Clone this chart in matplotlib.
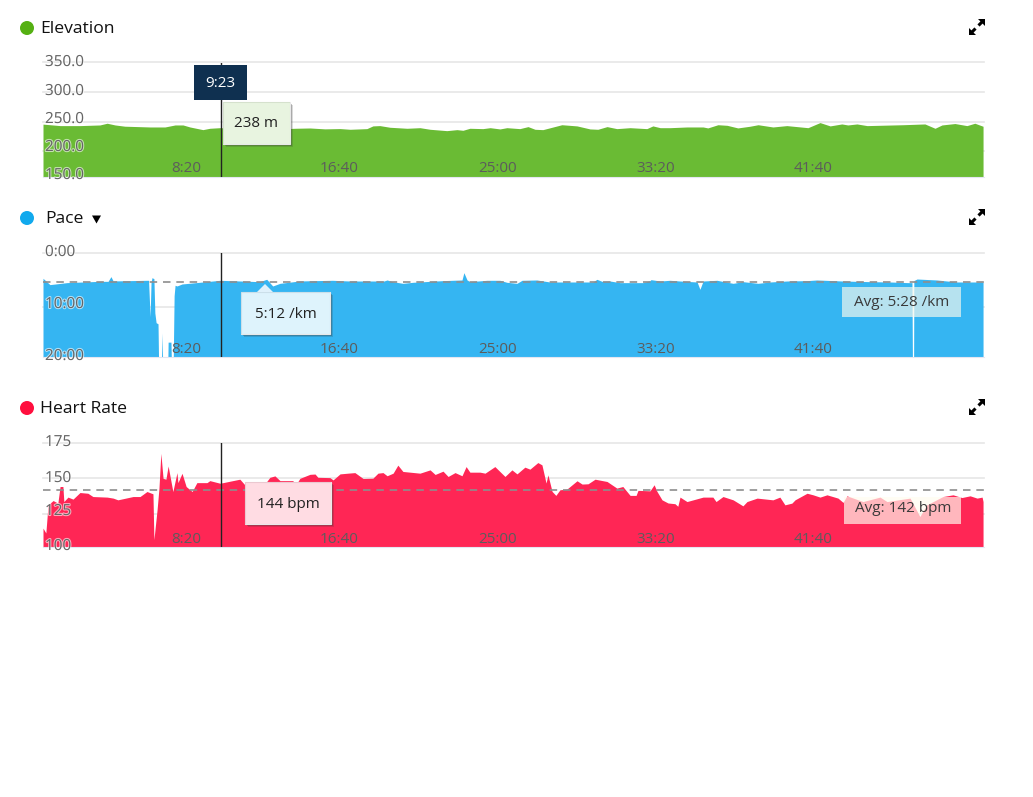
"""
    activity_charts

    Elevation, pace and heart rate area charts of one run.

"""

import matplotlib

matplotlib.use("Agg")
import matplotlib.patheffects as pe
import matplotlib.pyplot as plt
from matplotlib.patches import Circle, Polygon, Rectangle

plt.rcParams["font.family"] = ["Open Sans", "DejaVu Sans"]

# elevation, seconds and metres
elev_time = [0, 22, 54, 117, 180, 203, 228, 259, 339, 386, 418, 443, 465, 506, 528, 560, 608, 655,
             703, 750, 797, 845, 892, 940, 972, 1025, 1044, 1066, 1098, 1152, 1193, 1225, 1278, 1310,
             1329, 1351, 1392, 1415, 1446, 1468, 1509, 1535, 1557, 1582, 1642, 1690, 1731, 1756, 1785,
             1816, 1858, 1911, 1930, 1953, 1984, 2038, 2089, 2104, 2136, 2165, 2199, 2237, 2263, 2310,
             2354, 2421, 2459, 2491, 2528, 2547, 2576, 2608, 2722, 2791, 2823, 2845, 2886, 2924, 2949, 2975]
elev_values = [246, 245, 243.5, 243.5, 244.6, 247.5, 244.6, 242.5, 241.2, 241.2, 244.6, 244.6, 241.2,
               236.7, 239, 240, 239, 238, 239, 238, 239, 239.5, 238, 238.5, 237.3, 238.4, 243, 243.5,
               240.7, 239, 240, 237.3, 235, 236.7, 235.6, 239, 238.4, 240, 237.9, 240, 238.4, 241.8,
               237.3, 236.7, 245, 243, 237.9, 237.3, 241.8, 238.4, 240, 238.4, 243, 240, 240, 241.2,
               241.2, 239.6, 245, 244, 239.6, 242.4, 245, 241.2, 243.5, 240, 248.6, 243, 246.3, 244.6,
               246.3, 243.5, 245, 246.3, 239, 244.6, 247, 243.5, 247.5, 242.4]

# pace, seconds and minutes per km (25 = no pace recorded)
pace_time = [0, 22, 76, 180, 206, 215, 222, 329, 334, 339, 342, 345, 351, 354, 358, 364, 367, 373, 377,
             380, 394, 396, 405, 408, 411, 415, 418, 424, 440, 496, 560, 686, 708, 727, 750, 813, 916,
             972, 1079, 1089, 1106, 1139, 1171, 1266, 1326, 1332, 1342, 1351, 1405, 1446, 1468, 1500,
             1516, 1563, 1604, 1740, 1753, 1769, 1794, 1826, 1899, 1921, 1924, 1953, 1984, 2016, 2070,
             2079, 2089, 2133, 2184, 2215, 2263, 2301, 2354, 2418, 2449, 2532, 2617, 2680, 2737, 2750,
             2752, 2755, 2756, 2766, 2829, 2892, 2975]
pace_values = [4.78, 5.95, 5.58, 5.34, 5.34, 4.47, 5.27, 5.15, 5.15, 11.9, 5.5, 4.66, 4.85, 11.2, 13,
               13.2, 25, 25, 14.9, 25, 25, 16.6, 16.6, 25, 25, 8, 6.07, 6.2, 5.83, 5.52, 5.15, 5.4,
               4.96, 6.2, 5.71, 5.27, 5.15, 5.28, 5.28, 5.09, 5.4, 5.71, 5.52, 5.21, 5.09, 3.73, 5.09,
               5.4, 5.15, 5.15, 5.52, 5.71, 5.15, 5.09, 5.46, 5.46, 4.97, 5.34, 5.28, 5.58, 5.58, 5.21,
               5.03, 5.28, 5.15, 5.28, 5.46, 6.82, 5.28, 5.15, 5.71, 5.4, 5.71, 5.46, 5.28, 5.21, 5.09,
               5.28, 5.4, 5.46, 5.58, 5.58, 25, 25, 5.2, 4.91, 5.09, 5.46, 5.46]

# heart rate, seconds and bpm
hr_time = [0, 9, 16, 32, 47, 54, 63, 66, 79, 95,
           117, 142, 158, 203, 222, 237, 285, 307, 329, 348,
           351, 361, 367, 373, 380, 389, 396, 411, 424, 427,
           440, 453, 472, 487, 519, 528, 560, 570, 592, 623,
           639, 677, 696, 718, 734, 750, 791, 797, 813, 845,
           861, 870, 908, 918, 940, 965, 987, 1013, 1044, 1060,
           1076, 1089, 1108, 1123, 1139, 1193, 1225, 1241, 1266, 1282,
           1304, 1326, 1339, 1351, 1383, 1399, 1430, 1462, 1484, 1500,
           1525, 1541, 1566, 1579, 1592, 1598, 1611, 1623, 1636, 1658,
           1690, 1706, 1725, 1747, 1785, 1816, 1835, 1858, 1877, 1883,
           1921, 1934, 1943, 1959, 1978, 2000, 2009, 2016, 2038, 2089,
           2120, 2130, 2152, 2184, 2215, 2228, 2260, 2310, 2332, 2348,
           2370, 2380, 2418, 2437, 2459, 2481, 2516, 2532, 2544, 2595,
           2649, 2671, 2744, 2775, 2797, 2848, 2880, 2908, 2934, 2956,
           2972, 2975]
hr_values = [115.3, 111.9, 131.5, 134.5, 132.7, 144.3, 144.3, 133.8, 136.9, 135.5,
             140.1, 139.6, 137.3, 136.9, 136.2, 135, 137.3, 137.3, 140.8, 139.2,
             107.2, 128, 143.1, 167.4, 150, 149.4, 158.6, 140.8, 154, 147,
             153.5, 144.3, 140.8, 147, 147, 148.4, 146.6, 147, 148, 149.4,
             145.4, 144.9, 144.3, 150.7, 151.7, 148.4, 148.4, 144.3, 150, 152.8,
             153, 150.7, 150.5, 148.9, 153.1, 153.6, 154, 149.9, 150.1, 153.6,
             154, 151.8, 153.6, 159.2, 154.8, 153.6, 155.9, 152.7, 155, 151.3,
             154, 151.8, 158.2, 154.3, 154.3, 153.6, 158.2, 151.3, 155.9, 153.1,
             157.8, 156.4, 161, 159.4, 146.7, 152.4, 140.9, 138.1, 142, 142.5,
             148.3, 146, 146.2, 149.4, 147.8, 143.2, 144.3, 138.1, 138.1, 141.6,
             141.3, 145.5, 140.9, 135, 132.8, 132.3, 130.5, 136.9, 133.8, 136.9,
             136.9, 133.8, 137.3, 135, 130.8, 133.8, 136.2, 135, 136.9, 131.5,
             132.7, 135, 139.6, 138.5, 136.9, 138.5, 136.2, 133.2, 137.8, 133.8,
             136.9, 133.8, 136.2, 123.4, 131.5, 137.3, 138.5, 136.6, 137.8, 136.2,
             136.9, 133.8]

x_ticks = [500, 1000, 1500, 2000, 2500]
x_labels = ["8:20", "16:40", "25:00", "33:20", "41:40"]

elev_ticks = [350, 300, 250, 200]
pace_ticks = [0, 10]
hr_ticks = [175, 150, 125]
elev_labels = ["350.0", "300.0", "250.0", "200.0", "150.0"]
pace_labels = ["0:00", "10:00", "20:00"]
hr_labels = ["175", "150", "125", "100"]

cursor_time = 563
pace_avg = 5.47
hr_avg = 142

WIDTH, HEIGHT = 1033, 797
GREEN, BLUE, RED = "#6abb34", "#35b5f2", "#ff2655"
TEXT = "#666666"
SMALL = 11

fig = plt.figure(figsize=(WIDTH / 100, HEIGHT / 100), dpi=100)


def panel(top, bottom, times, values, ylim, ticks, color, base, avg=None):
    """One area chart, placed by its pixel rows in the figure."""
    ax = fig.add_axes([43 / WIDTH, 1 - bottom / HEIGHT, 941 / WIDTH, (bottom - top) / HEIGHT])
    ax.fill_between(times, values, base, color=color, lw=0, zorder=2)
    ax.set_xlim(0, 2978)
    ax.set_ylim(*ylim)
    ax.set_yticks(ticks)
    ax.set_xticks([])
    ax.set_yticklabels([])
    ax.tick_params(axis="y", length=0)
    ax.grid(axis="y", color="#e6e6e6", lw=1.2, zorder=1)
    for line in ax.get_ygridlines():
        line.set_clip_on(False)
    for name in ["top", "left", "right"]:
        ax.spines[name].set_visible(False)
    ax.spines["bottom"].set_color("#e4e6f2")
    ax.axvline(cursor_time, color="#222222", lw=1.0, zorder=4)
    if avg is not None:
        ax.axhline(avg, color="#8e8e8e", lw=1.2, dashes=(4.5, 3.5), zorder=3)
    for tick, label in zip(x_ticks, x_labels):
        ax.text(tick, 0.075, label, transform=ax.get_xaxis_transform(), ha="right", va="center",
                color="#5c5c5c", fontsize=SMALL, zorder=5)
    return ax


panel(62.5, 177, elev_time, elev_values, (156.8, 350), elev_ticks, GREEN, 0)
panel(252.5, 357, pace_time, pace_values, (19.35, 0), pace_ticks, BLUE, 30, pace_avg)
panel(442.5, 547, hr_time, hr_values, (102.1, 175), hr_ticks, RED, 0, hr_avg)

# everything else is placed in figure pixels
over = fig.add_axes([0, 0, 1, 1], zorder=10)
over.set_xlim(0, WIDTH)
over.set_ylim(HEIGHT, 0)
over.axis("off")


def axis_labels(labels, rows, clip):
    """Value labels sit inside the plot with a white outline."""
    for label, row in zip(labels, rows):
        txt = over.text(45, row + 1.5, label, ha="left", va="center", color=TEXT, fontsize=SMALL)
        txt.set_path_effects([pe.withStroke(linewidth=1.5, foreground="white", alpha=0.6)])
        txt.set_clip_path(Rectangle((0, 0), WIDTH, clip, transform=over.transData))


axis_labels(elev_labels, [61, 90, 118, 146, 174], 177)
axis_labels(pace_labels, [251, 303, 355], 357)
axis_labels(hr_labels, [441, 477, 510, 545], 547)


def header(row, title, color, text_x):
    over.add_patch(Circle((27, row), 7, color=color, lw=0))
    over.text(text_x, row + 0.8, title, ha="left", va="center", color="#111111", fontsize=12.6)
    # expand icon, two arrows with a gap in the middle
    cx, cy = 977, row - 1
    over.add_patch(Polygon([(cx + 8, cy - 8), (cx + 1, cy - 8), (cx + 8, cy - 1)], color="black", lw=0))
    over.add_patch(Polygon([(cx - 8, cy + 8), (cx - 1, cy + 8), (cx - 8, cy + 1)], color="black", lw=0))
    over.plot([cx + 1.5, cx + 5], [cy - 1.5, cy - 5], color="black", lw=2.2, solid_capstyle="butt")
    over.plot([cx - 1.5, cx - 5], [cy + 1.5, cy + 5], color="black", lw=2.2, solid_capstyle="butt")


header(28, "Elevation", "#55b013", 40)
header(218, "Pace", "#11a9ed", 45)
header(408, "Heart Rate", "#ff0f3e", 40)
over.add_patch(Polygon([(92, 215.5), (101, 215.5), (96.5, 223.5)], color="black", lw=0))

# time badge on the cursor
over.add_patch(Rectangle((194, 64.5), 53, 35.5, color="#0f3050", lw=0))
over.text(220.5, 83, "9:23", ha="center", va="center", color="white", fontsize=SMALL)

tooltip_tint = {"238 m": (0.416, 0.733, 0.204, 0.15), "5:12 /km": (0.208, 0.71, 0.949, 0.16),
                "144 bpm": (1.0, 0.149, 0.333, 0.16)}


def tooltip(x0, y0, x1, y1, label, caret=None):
    w, h = x1 - x0, y1 - y0
    for off, alpha in [(3, 0.18), (2, 0.3)]:
        over.add_patch(Rectangle((x0 + off, y0 + off), w, h, color="#333333", alpha=alpha, lw=0))
    over.add_patch(Rectangle((x0, y0), w, h, fc="white", ec="#e8e8e8", lw=0.8))
    over.add_patch(Rectangle((x0, y0), w, h, fc=tooltip_tint[label], lw=0))
    if caret is not None:
        over.add_patch(Polygon([(caret - 8, y0), (caret, y0 - 8), (caret + 8, y0)], fc="#dff1fb", lw=0))
    over.text((x0 + x1) / 2, (y0 + y1) / 2 + 1, label, ha="center", va="center",
              color="#222222", fontsize=SMALL)


tooltip(222.5, 101.5, 290, 144, "238 m")
tooltip(241, 292, 330, 334, "5:12 /km", caret=265)
tooltip(245, 482, 331, 524, "144 bpm")

# average boxes
over.add_patch(Rectangle((842, 287), 119, 30, fc="#f4f8ee", alpha=0.68, lw=0))
over.text(901.5, 302.5, "Avg: 5:28 /km", ha="center", va="center", color="#3a3a3a", fontsize=SMALL)
over.add_patch(Rectangle((844, 497), 117, 27, fc="#fffdf0", alpha=0.68, lw=0))
over.text(903, 509, "Avg: 142 bpm", ha="center", va="center", color="#3a3a3a", fontsize=SMALL)

fig.savefig("out.png", dpi=100)
